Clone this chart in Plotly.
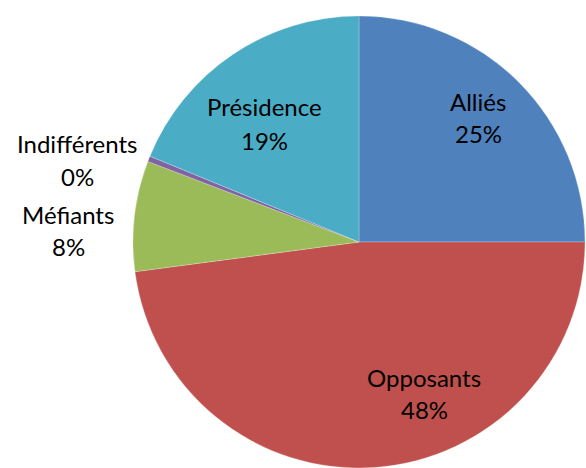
import plotly.graph_objects as go

categories = ["Alliés", "Opposants", "Méfiants", "Indifférents", "Présidence"]
values = [25.0, 47.9, 7.9, 0.4, 18.8]
colors = ["#4F81BD", "#C0504D", "#9BBB59", "#8064A2", "#4BACC6"]

W, H = 586, 468
# label centres (pixels from top-left) for name line and percent line
label_pos = {
    "Alliés": (478, 101, 133),
    "Opposants": (424, 377, 409),
    "Méfiants": (68, 215, 246),
    "Indifférents": (77, 143, 176),
    "Présidence": (264, 107, 140),
}

fig = go.Figure(go.Pie(
    labels=categories, values=values, sort=False, direction="clockwise",
    rotation=0, marker=dict(colors=colors, line=dict(color="rgba(255,255,255,0.4)", width=0.6)),
    textinfo="none", hoverinfo="label+percent", showlegend=False,
    domain=dict(x=[133 / W, 585 / W], y=[0, 1 - 16 / H]),
))

total = sum(values)
font = dict(family="Lato, Carlito, Calibri, sans-serif", size=24, color="black")
for c, v in zip(categories, values):
    x, y1, y2 = label_pos[c]
    fig.add_annotation(x=x / W, y=1 - y1 / H, xref="paper", yref="paper",
                       text=c, showarrow=False, font=font, xanchor="center", yanchor="middle")
    fig.add_annotation(x=x / W, y=1 - y2 / H, xref="paper", yref="paper",
                       text=f"{round(v / total * 100)}%", showarrow=False, font=font,
                       xanchor="center", yanchor="middle")

fig.update_layout(width=W, height=H, margin=dict(l=0, r=0, t=0, b=0),
                  paper_bgcolor="white", plot_bgcolor="white")
fig.write_html("out.html")
